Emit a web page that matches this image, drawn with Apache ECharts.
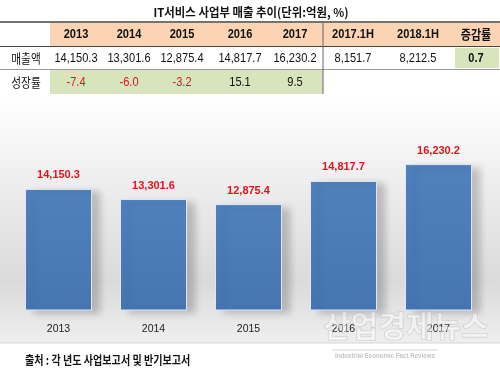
<!DOCTYPE html>
<html>
<head>
<meta charset="utf-8">
<script src="https://cdn.jsdelivr.net/npm/echarts@6/dist/echarts.min.js"></script>
<style>
html, body { margin: 0; padding: 0; background: #fff; }
#main { width: 500px; height: 377px; }
</style>
</head>
<body>
<div id="main"></div>
<script>
// 연도별 매출 (억원)
var years = ['2013', '2014', '2015', '2016', '2017'];
var sales = [14150.3, 13301.6, 12875.4, 14817.7, 16230.2];
var growth = [-7.4, -6.0, -3.2, 15.1, 9.5];
// 반기 비교
var halfCols = ['2017.1H', '2018.1H'];
var halfSales = [8151.7, 8212.5];
var halfChange = [0.7];

var title = 'IT서비스 사업부 매출 추이(단위:억원, %)';
var source = '출처 : 각 년도 사업보고서 및 반기보고서';

var NUM = '"Liberation Sans", Arial, sans-serif';
var KR = '"Noto Sans CJK KR", sans-serif';

function fmt(v) {
	return v.toLocaleString('en-US', {minimumFractionDigits: 1, maximumFractionDigits: 1});
}

// 좁은 글꼴 대신 가로 축소
function txt(x, y, s, font, color, sx) {
	return {
		type: 'text', x: x, y: y, z: 10, scaleX: sx || 0.82,
		style: {text: s, font: font, fill: color || '#111', textAlign: 'center', textVerticalAlign: 'middle'}
	};
}

// 표 좌표
var colX = [76, 129, 182, 240, 295, 353, 418, 476];
var rowY = [34.5, 58.5, 82];

var g = [];
// 차트 배경
g.push({type: 'rect', z: -10, shape: {x: 0, y: 96, width: 500, height: 247},
	style: {fill: new echarts.graphic.LinearGradient(0, 0, 0, 1, [
		{offset: 0, color: '#ffffff'},
		{offset: 0.75, color: '#dadada'},
		{offset: 1, color: '#efefef'}
	])}});
g.push({type: 'line', z: 10, shape: {x1: 0, y1: 343, x2: 500, y2: 343}, style: {stroke: '#d6d6d6', lineWidth: 1}});

// 표 배경
g.push({type: 'rect', z: 5, shape: {x: 50, y: 23, width: 450, height: 23}, style: {fill: '#fbd4b4'}});
g.push({type: 'rect', z: 5, shape: {x: 50, y: 70, width: 273, height: 24}, style: {fill: '#d8e4bc'}});
g.push({type: 'rect', z: 5, shape: {x: 455, y: 48, width: 44, height: 20}, style: {fill: '#d8e4bc'}});
// 선
g.push({type: 'line', z: 6, shape: {x1: 0, y1: 22, x2: 500, y2: 22}, style: {stroke: '#444', lineWidth: 1.5}});
g.push({type: 'line', z: 6, shape: {x1: 0, y1: 46.5, x2: 500, y2: 46.5}, style: {stroke: '#444', lineWidth: 1}});
g.push({type: 'line', z: 6, shape: {x1: 0, y1: 69.5, x2: 500, y2: 69.5}, style: {stroke: '#999', lineWidth: 1}});
g.push({type: 'line', z: 6, shape: {x1: 323, y1: 23, x2: 323, y2: 94}, style: {stroke: '#666', lineWidth: 1}});

g.push(txt(251, 12, title, 'bold 12px ' + KR, '#111', 0.95));
g.push(txt(26, rowY[1], '매출액', '13px ' + KR, '#111', 0.82));
g.push(txt(26, rowY[2], '성장률', '13px ' + KR, '#111', 0.82));

var i;
for (i = 0; i < years.length; i++) {
	g.push(txt(colX[i], rowY[0], years[i], 'bold 13.5px ' + NUM));
	g.push(txt(colX[i], rowY[1], fmt(sales[i]), '13.5px ' + NUM));
	g.push(txt(colX[i], rowY[2], fmt(growth[i]), '13.5px ' + NUM, growth[i] < 0 ? '#e0141e' : '#111'));
}
for (i = 0; i < halfCols.length; i++) {
	g.push(txt(colX[5 + i], rowY[0], halfCols[i], 'bold 13.5px ' + NUM));
	g.push(txt(colX[5 + i], rowY[1], fmt(halfSales[i]), '13.5px ' + NUM));
}
g.push(txt(colX[7], rowY[0], '증감률', 'bold 13px ' + KR, '#111', 0.85));
g.push(txt(colX[7], rowY[1], fmt(halfChange[0]), 'bold 13.5px ' + NUM));

// 출처
g.push({type: 'text', x: 25, y: 360, z: 10, scaleX: 0.84,
	style: {text: source, font: 'bold 12px ' + KR, fill: '#111', textAlign: 'left', textVerticalAlign: 'middle'}});

// 워터마크
g.push({type: 'text', x: 406, y: 326, z: 12,
	style: {text: '산업경제뉴스', font: 'bold 30px ' + KR, fill: 'rgba(255,255,255,0.45)', stroke: 'rgba(170,170,170,0.45)', lineWidth: 1, textAlign: 'center', textVerticalAlign: 'middle'}});
g.push({type: 'line', z: 12, shape: {x1: 332, y1: 350, x2: 438, y2: 350}, style: {stroke: 'rgba(180,180,180,0.6)', lineWidth: 1}});
g.push(txt(385, 356, 'Industrial Economic Fact Reviews', 'bold 6.5px ' + NUM, 'rgba(170,170,170,0.7)', 0.95));

var myChart = echarts.init(document.getElementById('main'));
var option = {
	animation: false,
	backgroundColor: '#fff',
	grid: {left: 11, right: 14, top: 143, bottom: 67},
	xAxis: {
		type: 'category',
		data: years,
		axisLine: {show: false},
		axisTick: {show: false},
		axisLabel: {color: '#222', fontFamily: NUM, fontSize: 10.5, margin: 14}
	},
	yAxis: {
		type: 'value', min: 4000, max: 18000,
		show: false,
		splitLine: {show: false}
	},
	series: [{
		type: 'bar',
		data: sales,
		barWidth: 67,
		z: 3,
		itemStyle: {
			color: new echarts.graphic.LinearGradient(0, 0, 0, 1, [
				{offset: 0, color: '#4f81bd'},
				{offset: 1, color: '#4676b2'}
			]),
			borderColor: '#dde7f3',
			borderWidth: 1,
			shadowColor: 'rgba(0,0,0,0.2)',
			shadowBlur: 7,
			shadowOffsetX: 8,
			shadowOffsetY: 3
		},
		label: {
			show: true,
			position: 'top',
			distance: 8,
			color: '#e0141e',
			fontFamily: NUM,
			fontWeight: 'bold',
			fontSize: 11,
			formatter: function(p) { return fmt(p.value); }
		}
	}],
	graphic: {elements: g}
};
myChart.setOption(option);
</script>
</body>
</html>
